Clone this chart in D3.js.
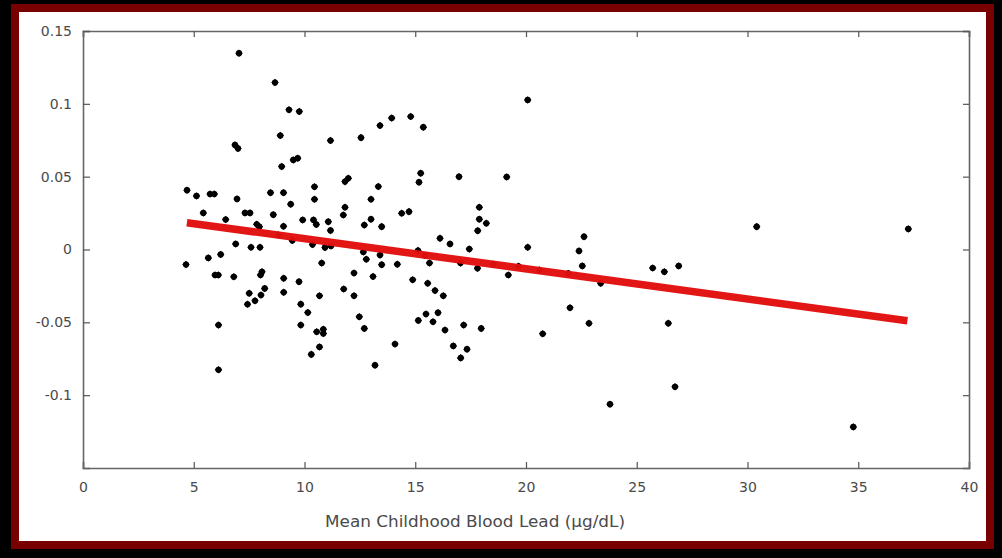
<!DOCTYPE html>
<html>
<head>
<meta charset="utf-8">
<script src="https://cdn.jsdelivr.net/npm/d3@7"></script>
<style>
  html, body { margin: 0; padding: 0; background: #000; }
  svg { display: block; }
</style>
</head>
<body>
<svg id="chart" width="1002" height="558"></svg>
<script>
// ---- data ----
const bloodLead = [
  8.668, 9.300, 9.765, 8.907, 11.174, 6.862, 6.998, 9.494, 9.693, 8.971,
  4.695, 5.124, 5.734, 5.928, 6.953, 8.465, 9.052, 10.451, 10.451, 9.377,
  5.431, 7.314, 7.540, 8.591, 6.442, 9.919, 10.406, 10.533, 11.074, 11.174,
  7.842, 7.959, 9.052, 6.894, 7.585, 7.991, 9.449, 10.361, 10.926, 11.196,
  8.817, 10.777, 12.235, 12.655, 12.790, 13.409, 13.485, 14.190, 13.093, 14.885,
  15.124, 15.440, 15.643, 16.117, 16.569, 17.440, 17.043, 17.810, 18.524, 19.201,
  19.661, 20.601, 20.077, 20.077, 19.129, 12.551, 13.409, 13.937, 14.795, 15.363,
  11.829, 11.977, 13.332, 13.002, 11.829, 11.752, 15.246, 15.169, 16.975, 14.388,
  14.718, 13.002, 12.700, 13.485, 17.892, 17.892, 18.208, 17.819, 4.650, 5.657,
  6.217, 5.959, 6.108, 6.808, 7.503, 7.427, 7.765, 8.036, 8.203, 8.014,
  8.081, 9.061, 9.061, 9.752, 9.833, 10.149, 9.833, 6.117, 6.117, 10.551,
  10.849, 10.849, 10.677, 10.307, 10.677, 11.770, 12.235, 15.562, 15.892, 16.266,
  12.474, 12.700, 14.086, 13.183, 15.138, 15.485, 15.801, 16.027, 16.343, 17.187,
  17.977, 16.718, 17.336, 17.052, 20.754, 21.910, 21.986, 22.393, 22.619, 22.542,
  22.844, 23.372, 23.792, 25.720, 26.244, 26.894, 26.424, 26.727, 30.415, 34.777,
  37.260, 7.043
];
const residual = [
  0.1146, 0.0959, 0.0947, 0.0782, 0.0748, 0.0718, 0.0694, 0.0615, 0.0627, 0.0569,
  0.0407, 0.0368, 0.0381, 0.0381, 0.0347, 0.0390, 0.0390, 0.0430, 0.0345, 0.0311,
  0.0251, 0.0251, 0.0251, 0.0239, 0.0206, 0.0203, 0.0203, 0.0172, 0.0191, 0.0131,
  0.0173, 0.0157, 0.0159, 0.0038, 0.0015, 0.0015, 0.0062, 0.0034, 0.0014, 0.0024,
  0.0100, -0.0093, -0.0162, -0.0017, -0.0067, -0.0038, -0.0104, -0.0102, -0.0186, -0.0208,
  -0.0007, -0.0041, -0.0093, 0.0077, 0.0038, 0.0003, -0.0093, -0.0129, -0.0102, -0.0175,
  -0.0115, -0.0141, 0.0015, 0.1027, 0.0498, 0.0768, 0.0851, 0.0902, 0.0913, 0.0840,
  0.0466, 0.0489, 0.0432, 0.0345, 0.0290, 0.0237, 0.0524, 0.0462, 0.0500, 0.0249,
  0.0260, 0.0208, 0.0168, 0.0157, 0.0290, 0.0208, 0.0180, 0.0129, -0.0103, -0.0058,
  -0.0034, -0.0175, -0.0175, -0.0187, -0.0301, -0.0376, -0.0352, -0.0313, -0.0267, -0.0175,
  -0.0153, -0.0198, -0.0294, -0.0221, -0.0375, -0.0433, -0.0519, -0.0519, -0.0826, -0.0565,
  -0.0548, -0.0576, -0.0669, -0.0720, -0.0318, -0.0271, -0.0318, -0.0232, -0.0282, -0.0318,
  -0.0462, -0.0542, -0.0649, -0.0794, -0.0487, -0.0443, -0.0496, -0.0434, -0.0553, -0.0519,
  -0.0542, -0.0662, -0.0684, -0.0744, -0.0579, -0.0164, -0.0400, -0.0010, 0.0088, -0.0113,
  -0.0507, -0.0232, -0.1062, -0.0127, -0.0153, -0.0113, -0.0507, -0.0943, 0.0157, -0.1218,
  0.0141, 0.1348
];
const fitX = [4.69, 37.22];
const fitY = [0.0184, -0.0489];
const xTicks = [0, 5, 10, 15, 20, 25, 30, 35, 40];
const yTicks = [-0.1, -0.05, 0, 0.05, 0.1, 0.15];
const yTickLabels = ["-0.1", "-0.05", "0", "0.05", "0.1", "0.15"];
const xTitle = "Mean Childhood Blood Lead (\u03bcg/dL)";

// ---- layout ----
const svg = d3.select("#chart");
const W = 1002, H = 558;
const plot = { left: 83, right: 969, top: 31, bottom: 468 };

svg.append("rect").attr("x", 0).attr("y", 0).attr("width", W).attr("height", H).attr("fill", "#000");
svg.append("rect").attr("x", 11).attr("y", 4).attr("width", 983).attr("height", 545).attr("fill", "#780000");
svg.append("rect").attr("x", 19).attr("y", 12).attr("width", 967).attr("height", 529).attr("fill", "#fff");

const x = d3.scaleLinear().domain([0, 40]).range([plot.left, plot.right]);
const y = d3.scaleLinear().domain([-0.15, 0.15]).range([plot.bottom, plot.top]);

const axisColor = "#666";
const font = "'DejaVu Sans', 'Liberation Sans', Arial, sans-serif";

// bottom axis (ticks inward)
const gB = svg.append("g").attr("transform", `translate(0,${plot.bottom})`)
  .call(d3.axisBottom(x).tickValues(xTicks).tickSize(-6).tickPadding(14).tickFormat(d3.format("d")));
// top axis
const gT = svg.append("g").attr("transform", `translate(0,${plot.top})`)
  .call(d3.axisTop(x).tickValues(xTicks).tickSize(-6).tickFormat(""));
// left axis
const gL = svg.append("g").attr("transform", `translate(${plot.left},0)`)
  .call(d3.axisLeft(y).tickValues(yTicks).tickSize(-7).tickPadding(11)
    .tickFormat((d, i) => yTickLabels[i]));
// right axis
const gR = svg.append("g").attr("transform", `translate(${plot.right},0)`)
  .call(d3.axisRight(y).tickValues(yTicks).tickSize(-6).tickFormat(""));

[gB, gT, gL, gR].forEach(g => {
  g.select(".domain").attr("stroke", axisColor).attr("stroke-width", 1.6);
  g.selectAll(".tick line").attr("stroke", "#555").attr("stroke-width", 1.2);
  g.selectAll(".tick text").attr("fill", "#4a4a4a").attr("font-family", font).attr("font-size", 14);
});
gB.selectAll(".tick text").attr("dy", "0.71em");

// points: rounded diamond-like markers
const pts = bloodLead.map((v, i) => [v, residual[i]]);
const sym = d3.symbol().type(d3.symbolDiamond2).size(36);
svg.append("g").selectAll("path.pt").data(pts).join("path")
  .attr("class", "pt")
  .attr("transform", d => `translate(${x(d[0])},${y(d[1])})`)
  .attr("d", sym)
  .attr("fill", "#000");
svg.append("g").selectAll("circle").data(pts).join("circle")
  .attr("cx", d => x(d[0])).attr("cy", d => y(d[1])).attr("r", 3.1)
  .attr("fill", "#000");

// regression line
svg.append("line")
  .attr("x1", x(fitX[0])).attr("y1", y(fitY[0]))
  .attr("x2", x(fitX[1])).attr("y2", y(fitY[1]))
  .attr("stroke", "#e30f0f").attr("stroke-width", 7.5).attr("stroke-linecap", "butt")
  .attr("opacity", 0.97);

// axis title
svg.append("text")
  .attr("x", 475).attr("y", 527)
  .attr("text-anchor", "middle")
  .attr("font-family", font).attr("font-size", 15).attr("fill", "#4a4a4a")
  .attr("textLength", 300).attr("lengthAdjust", "spacingAndGlyphs")
  .text(xTitle);
</script>
</body>
</html>
